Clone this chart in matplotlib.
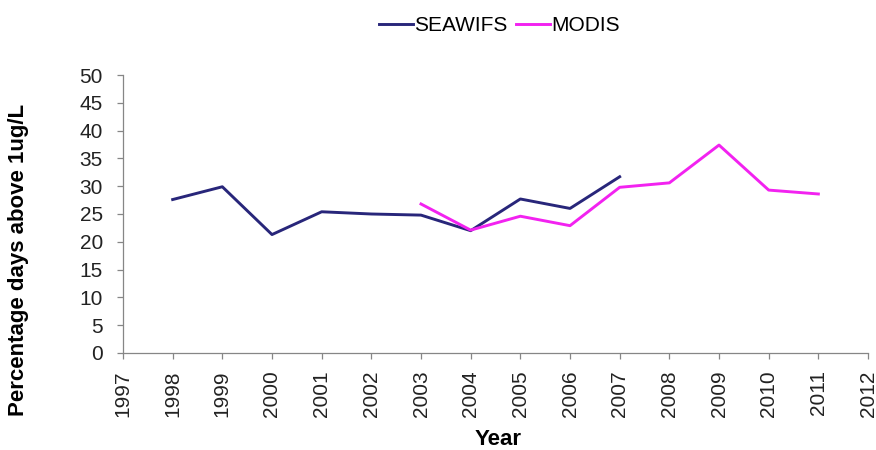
import matplotlib
matplotlib.use("Agg")
import matplotlib.pyplot as plt

# Percentage of days with chlorophyll above 1 ug/L, per sensor
seawifs_years = [1998, 1999, 2000, 2001, 2002, 2003, 2004, 2005, 2006, 2007]
seawifs_values = [27.6, 29.9, 21.3, 25.4, 25.0, 24.8, 22.0, 27.7, 26.0, 31.7]

modis_years = [2003, 2004, 2005, 2006, 2007, 2008, 2009, 2010, 2011]
modis_values = [26.8, 22.1, 24.6, 22.9, 29.8, 30.6, 37.4, 29.3, 28.6]

year_ticks = list(range(1997, 2013))
y_ticks = list(range(0, 51, 5))

plt.rcParams['font.family'] = ['Liberation Sans', 'DejaVu Sans']

fig = plt.figure(figsize=(8.76, 4.5), dpi=100)
ax = fig.add_axes([0.1404, 0.2156, 0.8505, 0.6177])

ax.plot(seawifs_years, seawifs_values, color='#28267a', lw=2.1, label='SEAWIFS')
ax.plot(modis_years, modis_values, color='#f222f0', lw=2.1, label='MODIS')

ax.set_xlim(1997, 2012)
ax.set_ylim(0, 50)
ax.set_xticks(year_ticks)
ax.set_xticklabels([str(y) for y in year_ticks], rotation=90, fontsize=15, color='#222222')
ax.set_yticks(y_ticks)
ax.set_yticklabels([str(v) for v in y_ticks], fontsize=15, color='#222222')

for side in ('top', 'right'):
    ax.spines[side].set_visible(False)
for side in ('left', 'bottom'):
    ax.spines[side].set_color('#868686')
    ax.spines[side].set_linewidth(0.9)
ax.tick_params(axis='both', direction='out', length=4.5, width=0.9, color='#868686')
ax.tick_params(axis='y', pad=10)
ax.tick_params(axis='x', pad=8)

ax.set_xlabel('Year', fontsize=16, fontweight='bold')
ax.xaxis.set_label_coords(0.503, -0.275)
ax.set_ylabel('Percentage days above 1ug/L', fontsize=16, fontweight='bold')
ax.yaxis.set_label_coords(-0.126, 0.335)

fig.legend(loc='center', bbox_to_anchor=(0.57, 0.943), ncol=2, frameon=False,
           fontsize=15, handlelength=1.6, handletextpad=0.05, columnspacing=0.45,
           borderpad=0.1)

fig.savefig('out.png', dpi=100)
